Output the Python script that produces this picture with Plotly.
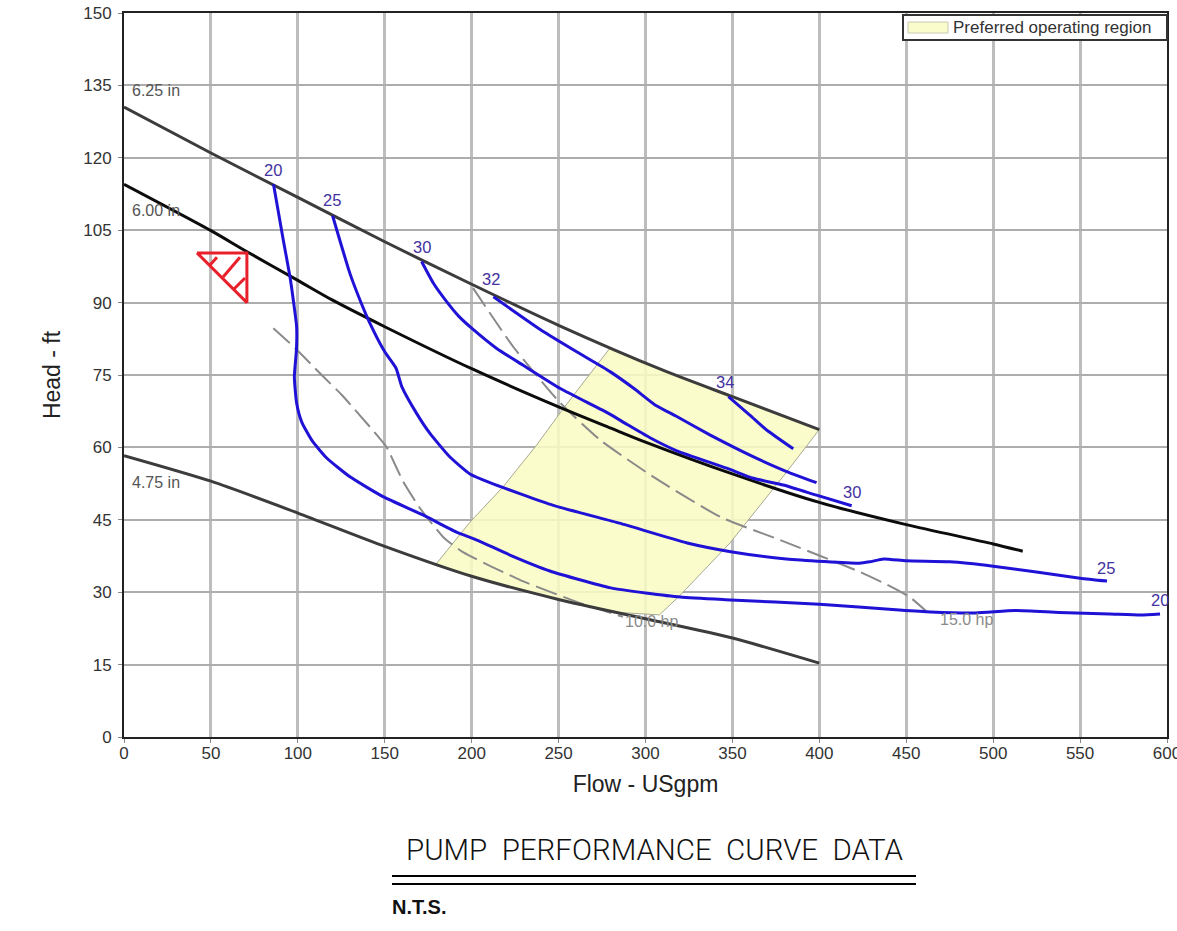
import plotly.graph_objects as go

# Impeller trim curves
trim625_x = [0, 50, 100, 150, 200, 250, 310, 350, 400]
trim625_y = [130.5, 121, 111.8, 102.6, 93.8, 85.3, 76, 70.5, 63.7]
trim600_x = [0, 50, 70, 100, 120, 150, 200, 250, 280, 300, 350, 400, 450, 500, 517]
trim600_y = [114.5, 104.9, 100.7, 94.6, 90.5, 85, 76.3, 68.4, 64, 61.1, 54.5, 48.6, 44, 40, 38.5]
trim475_x = [0, 50, 100, 150, 200, 250, 300, 350, 400]
trim475_y = [58.3, 53, 46.4, 39.5, 33.3, 28.5, 24.5, 20.5, 15.3]

# Efficiency curves
eff20_x = [86, 91.6, 95.5, 97.4, 99.3, 99.2, 98, 99.3, 102.2, 108, 116.6, 130, 149, 172, 191, 203, 222, 245, 280, 320, 349, 400, 446, 464, 490, 512.6, 538, 567, 585, 596]
eff20_y = [114.5, 103, 95.3, 90.5, 85, 80.2, 74.6, 69.2, 65.3, 61.5, 57.8, 53.9, 49.8, 46, 42.5, 40.8, 37.7, 34.4, 30.9, 29, 28.4, 27.5, 26.3, 25.9, 25.7, 26.2, 25.8, 25.5, 25.3, 25.5]
eff25_x = [120, 130, 135.8, 141.5, 150, 156.5, 159.8, 168.4, 176, 187.5, 199, 210.5, 247, 285, 324, 349, 381, 423, 429, 437, 450, 475, 500, 550, 565.5]
eff25_y = [108, 96, 90.5, 85.7, 79.8, 76.4, 72.6, 67, 62.9, 58, 54.5, 52.7, 48, 44.3, 40.2, 38.4, 36.9, 36, 36.3, 36.9, 36.5, 36.3, 35.4, 32.9, 32.3]
eff30_x = [171.2, 178, 185.6, 192.5, 200, 214.4, 229.7, 251, 279, 289.2, 302.6, 318, 346.7, 362, 379.3, 398.4, 418.6]
eff30_y = [98.5, 94, 90.2, 87.2, 84.7, 80.5, 77, 72.2, 67, 64.8, 62, 59.3, 55.7, 53.6, 52.2, 50.1, 47.9]
eff32_x = [212.5, 225.9, 241.2, 260.4, 279.6, 293, 305.5, 318, 337, 350.4, 365.9, 381.2, 398.4]
eff32_y = [91.2, 87.8, 84, 79.8, 75.7, 72.3, 68.8, 66.4, 62.6, 60.1, 57.4, 55, 52.7]
eff34_x = [347.7, 360, 369.7, 385]
eff34_y = [70.5, 66.7, 63.6, 59.7]

# Power curves
hp10_x = [85.9, 98.4, 113.7, 125.2, 145.4, 151, 160.6, 170.3, 183.7, 195, 228, 262, 287]
hp10_y = [84.7, 80.6, 75, 70.9, 62.6, 60.1, 52.9, 47.4, 41.4, 38.3, 32.5, 27.8, 24.9]
hp15_x = [200.8, 224, 251, 274, 304.5, 343, 377.5, 423.4, 442, 452, 462]
hp15_y = [93, 80.8, 69.2, 61.5, 53.9, 45.6, 40.8, 34.2, 31, 29, 25.9]

# Preferred operating region outline
region_x = [179, 199, 218, 237.4, 252.6, 279.6, 310, 350, 400, 379, 360, 348.6, 320, 308, 280, 250, 200, 179]
region_y = [35.6, 44.5, 51.8, 60.5, 68, 80.6, 76, 70.5, 63.7, 53.9, 45.4, 40.2, 29.4, 25.3, 25.9, 28.5, 33.3, 35.6]

# Duty point marker
tri_x = [42, 70.7, 70.7, 42, None, 53.5, 49.5, None, 66.7, 57, None, 69.6, 62.7]
tri_y = [100.3, 100.3, 90, 100.3, None, 99.4, 97.8, None, 99.4, 95.3, None, 95.1, 92.6]

x_ticks = list(range(0, 601, 50))
y_ticks = list(range(0, 151, 15))

trim_labels = [("6.25 in", 4.6, 134), ("6.00 in", 4.6, 109), ("4.75 in", 4.6, 52.8)]
eff_labels = [("20", 85.5, 117.5), ("25", 119.5, 111.3), ("30", 171.5, 101.5), ("32", 211, 94.8),
              ("34", 346, 73.5), ("30", 418.7, 50.7), ("25", 565, 35), ("20", 596, 28.4)]
hp_labels = [("10.0 hp", 303.5, 24), ("15.0 hp", 484.5, 24.4)]
legend_text = "Preferred operating region"

W, H = 1177, 931
L, R, T, B = 124, 1167, 13, 737
px = lambda v: (v - L) / (R - L)
py = lambda v: (B - v) / (B - T)
FONT = "Liberation Sans, Arial, sans-serif"
YELLOW = "rgba(250,251,195,0.86)"

fig = go.Figure()
fig.add_trace(go.Scatter(x=region_x, y=region_y, mode="lines", fill="toself", fillcolor=YELLOW,
                         line=dict(color="#a8a890", width=1), showlegend=False))
for xs, ys in [(hp10_x, hp10_y), (hp15_x, hp15_y)]:
    fig.add_trace(go.Scatter(x=xs, y=ys, mode="lines", showlegend=False,
                             line=dict(color="#8a8a8a", width=2, dash="22px,7px", shape="spline", smoothing=0.5)))
for xs, ys, c in [(trim625_x, trim625_y, "#3c3c3c"), (trim600_x, trim600_y, "#0c0c0c"), (trim475_x, trim475_y, "#3c3c3c")]:
    fig.add_trace(go.Scatter(x=xs, y=ys, mode="lines", showlegend=False,
                             line=dict(color=c, width=3, shape="spline", smoothing=0.7)))
for xs, ys in [(eff20_x, eff20_y), (eff25_x, eff25_y), (eff30_x, eff30_y), (eff32_x, eff32_y), (eff34_x, eff34_y)]:
    fig.add_trace(go.Scatter(x=xs, y=ys, mode="lines", showlegend=False,
                             line=dict(color="#1f12d6", width=3, shape="spline", smoothing=0.5)))
fig.add_trace(go.Scatter(x=tri_x, y=tri_y, mode="lines", showlegend=False,
                         line=dict(color="#e8202c", width=3)))

ann = []
for t, x, y in trim_labels:
    ann.append(dict(text=t, x=x, y=y, xanchor="left", yanchor="middle", showarrow=False, xshift=-2,
                    font=dict(family=FONT, size=16, color="#555555")))
for t, x, y in eff_labels:
    ann.append(dict(text=t, x=x, y=y, xanchor="center", yanchor="middle", showarrow=False,
                    font=dict(family=FONT, size=16.5, color="#43329f")))
for t, x, y in hp_labels:
    ann.append(dict(text=t, x=x, y=y, xanchor="center", yanchor="middle", showarrow=False,
                    font=dict(family=FONT, size=16, color="#8a8a8a")))
ann.append(dict(text=legend_text, xref="paper", yref="paper", x=px(951), y=py(28), xanchor="left",
                yanchor="middle", showarrow=False, font=dict(family=FONT, size=17, color="#333333")))
ann.append(dict(text="PUMP\u00a0\u00a0PERFORMANCE\u00a0\u00a0CURVE\u00a0\u00a0DATA", xref="paper", yref="paper",
                x=px(654), y=py(850), xanchor="center", yanchor="middle", showarrow=False,
                font=dict(family="Roboto, Liberation Sans", size=29.5, color="#111111", weight=300)))
ann.append(dict(text="<b>N.T.S.</b>", xref="paper", yref="paper", x=px(390), y=py(907),
                xanchor="left", yanchor="middle", showarrow=False,
                font=dict(family=FONT, size=20, color="#111111")))

shapes = [dict(type="line", xref="paper", yref="paper", x0=px(392), x1=px(916), y0=py(v), y1=py(v),
               line=dict(color="#000000", width=2)) for v in (876, 884)]
shapes.append(dict(type="rect", xref="paper", yref="paper", x0=px(903), x1=px(1167), y0=py(15), y1=py(40),
                   fillcolor="white", line=dict(color="#333333", width=2)))
shapes.append(dict(type="rect", xref="paper", yref="paper", x0=px(908), x1=px(948), y0=py(22), y1=py(33),
                   fillcolor=YELLOW, line=dict(color="#c8c8b0", width=1)))

axis_common = dict(showgrid=True, zeroline=False,
                   showline=True, linecolor="#222222", linewidth=2, mirror=True,
                   ticks="outside", ticklen=4, tickcolor="#888888", tickwidth=1,
                   ticklabeloverflow="allow",
                   tickfont=dict(family=FONT, size=17, color="#333333"))
fig.update_layout(
    width=W, height=H, autosize=False,
    margin=dict(l=L, r=W - R, t=T, b=H - B, pad=0),
    paper_bgcolor="white", plot_bgcolor="white",
    xaxis=dict(range=[0, 600], tickmode="array", tickvals=x_ticks, automargin=False,
               gridcolor="#bdbdbd", gridwidth=2.5, ticklabelstandoff=-4, **axis_common),
    yaxis=dict(range=[0, 150], tickmode="array", tickvals=y_ticks, automargin=False,
               gridcolor="#adadad", gridwidth=2, ticklabelstandoff=3, **axis_common),
    xaxis_title=dict(text="Flow - USgpm", font=dict(family=FONT, size=23, color="#222222"), standoff=13),
    yaxis_title=dict(text="Head - ft", font=dict(family=FONT, size=23, color="#222222"), standoff=16),
    annotations=ann, shapes=shapes, showlegend=False,
)
fig.write_html("out.html", config={"displayModeBar": False},
               post_script="document.body.style.margin='0';document.body.style.overflow='hidden';")
